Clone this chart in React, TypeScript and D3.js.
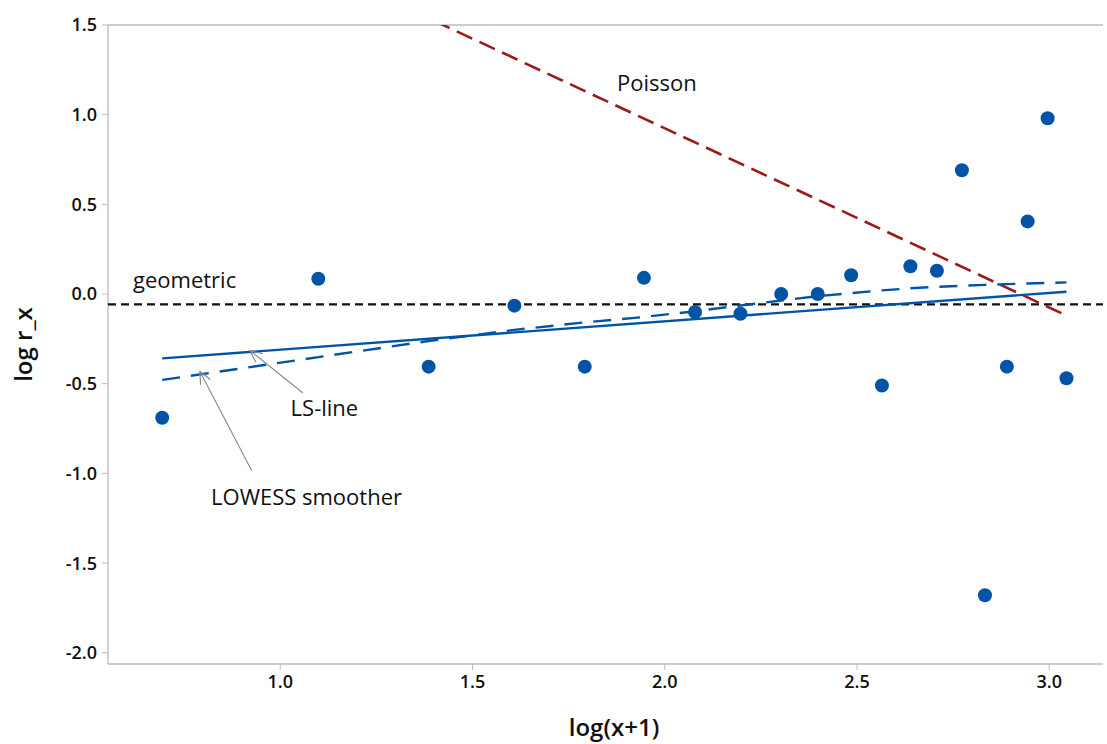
import React from 'react';
import { scaleLinear, line } from 'd3';

const width = 1107;
const height = 744;
const margin = { top: 25, right: 4, bottom: 80, left: 108 };
const innerWidth = width - margin.left - margin.right;
const innerHeight = height - margin.top - margin.bottom;

// observed points: log(x+1) vs log r_x
const pointX = [0.693, 1.099, 1.386, 1.609, 1.792, 1.946, 2.079, 2.197, 2.303, 2.398, 2.485, 2.565, 2.639, 2.708, 2.773, 2.833, 2.89, 2.944, 2.996, 3.045];
const pointY = [-0.69, 0.085, -0.405, -0.065, -0.405, 0.09, -0.1, -0.11, 0.0, 0.0, 0.105, -0.51, 0.155, 0.13, 0.69, -1.68, -0.405, 0.405, 0.98, -0.47];

// LOWESS smoother evaluated at the point x's
const lowessY = [-0.479, -0.352, -0.262, -0.2, -0.158, -0.128, -0.096, -0.064, -0.036, -0.012, 0.005, 0.02, 0.032, 0.04, 0.046, 0.051, 0.055, 0.059, 0.062, 0.065];

// LS line and Poisson reference line (endpoints)
const lsX = [0.693, 3.045];
const lsY = [-0.359, 0.013];
const poissonX = [0.693, 3.045];
const poissonY = [2.23, -0.12];
const geometricY = -0.058;

const xTicks = [1.0, 1.5, 2.0, 2.5, 3.0];
const yTicks = [-2.0, -1.5, -1.0, -0.5, 0.0, 0.5, 1.0, 1.5];

const labels = [
  { text: 'Poisson', x: 1.876, y: 1.132 },
  { text: 'geometric', x: 0.617, y: 0.033 },
  { text: 'LS-line', x: 1.027, y: -0.678 },
  { text: 'LOWESS smoother', x: 0.82, y: -1.176 },
];
const arrows = [
  { x1: 1.059, y1: -0.552, x2: 0.921, y2: -0.315 },
  { x1: 0.926, y1: -0.985, x2: 0.791, y2: -0.432 },
];

const font = "'Open Sans', 'Noto Sans', sans-serif";
const blue = '#0054a6';

export default function App() {
  const x = scaleLinear().domain([0.552, 3.14]).range([0, innerWidth]);
  const y = scaleLinear().domain([-2.063, 1.5]).range([innerHeight, 0]);

  const path = line<[number, number]>()
    .x((d) => x(d[0]))
    .y((d) => y(d[1]));

  const lowess = path(pointX.map((v, i) => [v, lowessY[i]]));
  const ls = path(lsX.map((v, i) => [v, lsY[i]]));
  const poisson = path(poissonX.map((v, i) => [v, poissonY[i]]));

  return (
    <svg width={width} height={height} style={{ position: 'absolute', left: 0, top: 0, background: '#fff' }} fontFamily={font}>
      <defs>
        <clipPath id="plot">
          <rect x={0} y={0} width={innerWidth} height={innerHeight} />
        </clipPath>
        <marker id="arr" viewBox="0 0 14 14" refX={13} refY={7} markerWidth={14} markerHeight={14} markerUnits="userSpaceOnUse" orient="auto">
          <path d="M1,1.5 L13,7 L1,12.5" fill="none" stroke="#888" strokeWidth={1.2} />
        </marker>
      </defs>
      <g transform={`translate(${margin.left},${margin.top})`}>
        {/* frame */}
        <line x1={0} x2={innerWidth} y1={0} y2={0} stroke="#bbb" strokeWidth={1.3} />
        <line x1={0} x2={0} y1={0} y2={innerHeight} stroke="#bbb" strokeWidth={1.3} />
        <line x1={0} x2={innerWidth} y1={innerHeight} y2={innerHeight} stroke="#bbb" strokeWidth={1.3} />

        {yTicks.map((t) => (
          <g key={t} transform={`translate(0,${y(t)})`}>
            <line x1={-6} x2={0} stroke="#bbb" strokeWidth={1} />
            <text x={-11} dy="0.36em" textAnchor="end" fontSize={18} fontWeight={600} fill="#111">
              {t.toFixed(1)}
            </text>
          </g>
        ))}
        {xTicks.map((t) => (
          <g key={t} transform={`translate(${x(t)},${innerHeight})`}>
            <line y1={0} y2={6} stroke="#bbb" strokeWidth={1} />
            <text y={24} textAnchor="middle" fontSize={18} fontWeight={600} fill="#111">
              {t.toFixed(1)}
            </text>
          </g>
        ))}

        <g clipPath="url(#plot)">
          <line x1={0} x2={innerWidth} y1={y(geometricY)} y2={y(geometricY)} stroke="#111" strokeWidth={2.2} strokeDasharray="8,5" />
          <path d={poisson ?? ''} fill="none" stroke="#9b1a1a" strokeWidth={2.6} strokeDasharray="17,8" />
          <path d={ls ?? ''} fill="none" stroke={blue} strokeWidth={2.4} />
          <path d={lowess ?? ''} fill="none" stroke={blue} strokeWidth={2.4} strokeDasharray="18,11" />
          {pointX.map((v, i) => (
            <circle key={i} cx={x(v)} cy={y(pointY[i])} r={7} fill={blue} />
          ))}
        </g>

        {arrows.map((a, i) => (
          <line key={i} x1={x(a.x1)} y1={y(a.y1)} x2={x(a.x2)} y2={y(a.y2)} stroke="#888" strokeWidth={1.1} markerEnd="url(#arr)" />
        ))}
        {labels.map((l) => (
          <text key={l.text} x={x(l.x)} y={y(l.y)} fontSize={22} fill="#111">
            {l.text}
          </text>
        ))}
      </g>

      <text x={614} y={736} textAnchor="middle" fontSize={24} fontWeight={600} fill="#111">
        log(x+1)
      </text>
      <text transform={`translate(32,${margin.top + innerHeight / 2}) rotate(-90)`} textAnchor="middle" fontSize={24} fontWeight={600} fill="#111">
        log r_x
      </text>
    </svg>
  );
}
